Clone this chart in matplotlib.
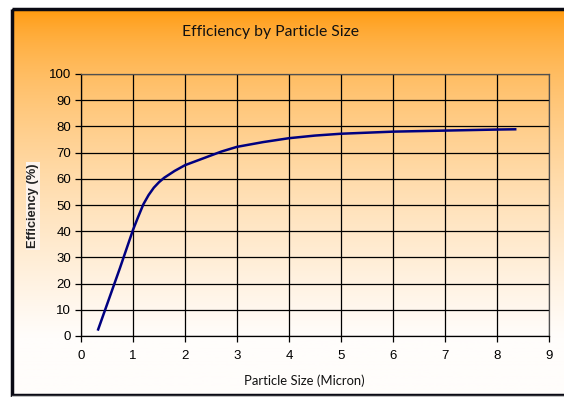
import numpy as np
import matplotlib.pyplot as plt
from matplotlib.patches import Rectangle

# Efficiency curve read along the particle size axis
size_micron = [0.33, 0.5, 0.75, 1.0, 1.1, 1.2, 1.3, 1.4, 1.5, 1.6, 1.8, 2.0,
               2.35, 2.7, 3.0, 3.5, 4.0, 4.5, 5.0, 5.5, 6.0, 6.5, 7.0, 7.5,
               8.0, 8.35]
efficiency = [2.5, 12, 26, 40.5, 45.5, 50.3, 53.8, 56.6, 58.7, 60.4, 63, 65.2,
              67.8, 70.4, 72.2, 74, 75.5, 76.5, 77.2, 77.6, 78, 78.2, 78.4, 78.6,
              78.8, 78.9]

x_ticks = list(range(0, 10))
y_ticks = list(range(0, 101, 10))

W, H = 564, 397
fig = plt.figure(figsize=(W / 100, H / 100), dpi=100)
fig.patch.set_facecolor('white')

# background: orange-to-white vertical gradient inside a dark frame
bg = fig.add_axes([0, 0, 1, 1])
bg.set_xlim(0, W)
bg.set_ylim(H, 0)
bg.axis('off')
t = np.clip(np.linspace(0, 1, 400) / 0.85, 0, 1) ** 0.6
orange = np.array([255, 150, 5]) / 255
white = np.array([255, 253, 251]) / 255
grad = (orange[None, :] * (1 - t[:, None]) + white[None, :] * t[:, None])[:, None, :]
bg.imshow(grad, extent=(12, W + 2, 395, 9), aspect='auto', zorder=0)
bg.add_patch(Rectangle((12, 9), W, 386, fill=False, edgecolor='#0a0a14', lw=2.5, zorder=1))
bg.plot([12, W], [395.5, 395.5], color='#c0c0c0', lw=1, zorder=2)

ax = fig.add_axes([81 / W, (H - 336) / H, 468 / W, 262 / H])
ax.patch.set_alpha(0)
ax.plot(size_micron, efficiency, color='#000080', lw=1.8, zorder=3)
ax.set_xlim(0, 9)
ax.set_ylim(0, 100)
ax.set_xticks(x_ticks)
ax.set_yticks(y_ticks)
ax.grid(True, color='black', lw=0.9)
for s in ax.spines.values():
    s.set_color('#505050')
    s.set_linewidth(0.9)
ax.spines['left'].set_color('black')
ax.spines['bottom'].set_color('black')
ax.tick_params(labelsize=9.5, length=4, width=0.9, pad=3, colors='black')
for lab in ax.get_xticklabels() + ax.get_yticklabels():
    lab.set_family('Liberation Sans')
ax.tick_params(axis='x', pad=6)

fig.text(270 / W, 1 - 32 / H, 'Efficiency by Particle Size', ha='center', va='center',
         fontsize=11.3, family='Lato', color='#111111')
fig.text(304 / W, 1 - 381 / H, 'Particle Size (Micron)', ha='center', va='center',
         fontsize=9.4, family='Lato', color='#111111')
fig.text(33 / W, 1 - 206 / H, 'Efficiency (%)', ha='center', va='center', rotation=90,
         fontsize=9.3, fontweight='bold', family='Liberation Sans', color='#222222',
         bbox=dict(facecolor='#fbf3ee', edgecolor='none', pad=1))

fig.savefig('out.png', dpi=100)
